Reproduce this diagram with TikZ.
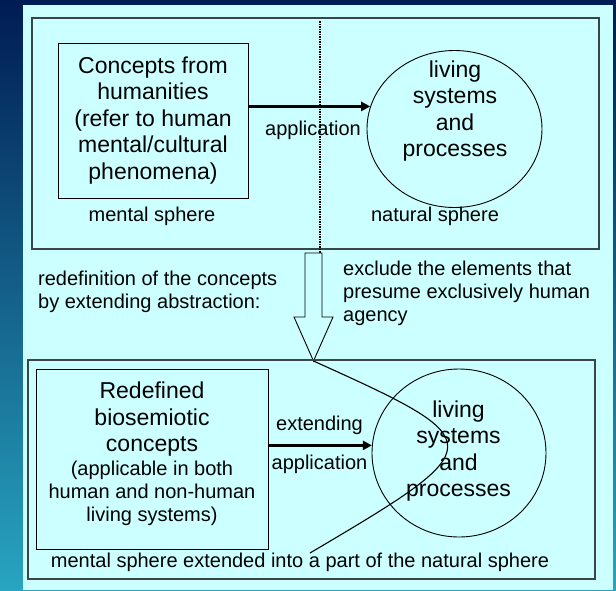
\documentclass[tikz,border=0pt]{standalone}
\usepackage{fontspec}
\setmainfont{Liberation Sans}
\usetikzlibrary{arrows.meta,shapes.geometric}
\definecolor{panel}{RGB}{204,255,255}
\definecolor{navy}{RGB}{0,28,84}
\definecolor{royal}{RGB}{0,52,150}
\definecolor{slideteal}{RGB}{40,165,192}
\definecolor{edge}{RGB}{55,70,70}

\begin{document}
\begin{tikzpicture}[x=1pt,y=-1pt,
    box/.style={draw=edge,line width=1.2pt},
    main/.style={draw,rectangle,line width=1pt,inner sep=0pt},
    oval/.style={draw,ellipse,line width=0.9pt,inner sep=0pt},
    big/.style={align=center,font=\fontsize{23}{26.5}\selectfont,inner sep=0pt},
    small/.style={align=center,font=\fontsize{20}{23}\selectfont,inner sep=0pt},
    arr/.style={-{Triangle[length=9pt,width=9pt]},line width=2.4pt}]
    \useasboundingbox (0,0) rectangle (616,590);
    \shade[top color=navy,middle color=royal,bottom color=slideteal] (0,0) rectangle (616,590);
    \fill[panel] (23,5) rectangle (613,590);

    \draw[box] (32,18) rectangle (599,249);
    \node[main,big,minimum width=190pt,minimum height=155pt] (concepts) at (153,120.5)
        {Concepts from\\humanities\\(refer to human\\mental/cultural\\phenomena)};
    \node[oval,minimum width=175pt,minimum height=157pt] (living1) at (454.5,129) {};
    \node[big] (livingtxt1) at (455,111) {living\\systems\\and\\processes};
    \coordinate (in1) at (living1.165);
    \draw[arr] (concepts.east |- in1) -- (in1);
    \node[small] (app1) at (313,130) {application};
    \node[small] (mental) at (152,216) {mental sphere};
    \node[small] (natural) at (435,216) {natural sphere};

    \coordinate (divtop) at (319.5,21);
    \coordinate (divend) at (319.5,253);
    \draw[line width=2pt,dash pattern=on 1.6pt off 0.9pt] (divtop) -- (divend);

    \coordinate (tip) at (313.5,361);
    \draw[line width=0.9pt,fill=panel] (305,253) -- (305,317) -- (294,317) -- (tip)
        -- (333,317) -- (322,317) -- (322,253) -- cycle;
    \node[small,align=left,anchor=west] (redefine) at (38,291.7)
        {redefinition of the concepts\\by extending abstraction:};
    \node[small,align=left,anchor=west] (exclude) at (343,293.3)
        {exclude the elements that\\presume exclusively human\\agency};

    \draw[box] (28,360) rectangle (595,579);
    \node[main,minimum width=232pt,minimum height=180pt] (redef) at (152.5,459) {};
    \node[big] (redeftxt) at (152,419.4) {Redefined\\biosemiotic\\concepts};
    \node[small] (redefnote) at (152,493.6)
        {(applicable in both\\human and non-human\\living systems)};
    \node[oval,minimum width=174pt,minimum height=168pt] (living2) at (459,453) {};
    \node[big] (livingtxt2) at (458.5,450.8) {living\\systems\\and\\processes};
    \coordinate (in2) at (living2.175);
    \draw[arr] (redef.east |- in2) -- (in2);
    \node[small] (ext) at (319.5,425) {extending};
    \node[small] (app2) at (319.5,464.3) {application};
    \node[small] (caption) at (300,562.7)
        {mental sphere extended into a part of the natural sphere};

    \coordinate (tail) at (310,553);
    \draw[line width=1.1pt] (tip) .. controls (493,442) and (493,445) .. (tail);
\end{tikzpicture}
\end{document}
